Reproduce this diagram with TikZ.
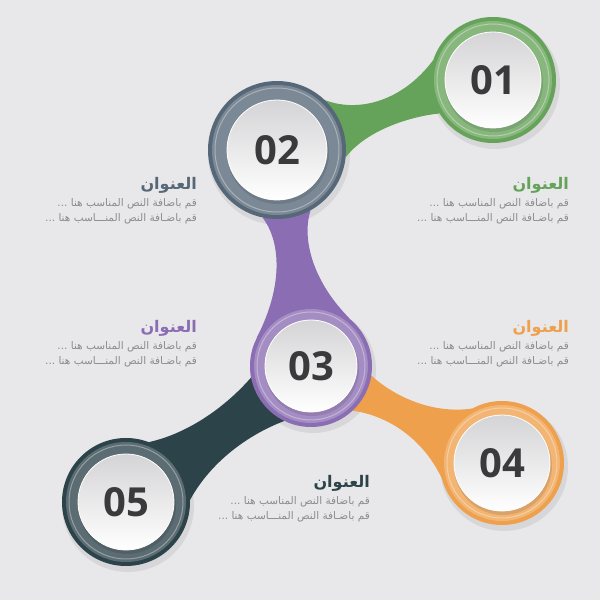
\documentclass[tikz,border=0pt]{standalone}
\usepackage{fontspec}
\usepackage{tikz}
\usetikzlibrary{calc,positioning}
\TeXXeTstate=1
\newfontfamily\arabicfont[Script=Arabic]{DejaVu Sans}
\newfontfamily\numfont{Open Sans}
\definecolor{bgc}{HTML}{E8E8EA}
\definecolor{grn}{HTML}{66A35A}
\definecolor{slt}{HTML}{566777}
\definecolor{prp}{HTML}{8A6DB2}
\definecolor{org}{HTML}{EEA04C}
\definecolor{drk}{HTML}{2C434A}
\definecolor{numc}{HTML}{3A3A3C}
\definecolor{txtc}{HTML}{8C8C8E}
\definecolor{discg}{HTML}{D4D4D6}
\pgfdeclarelayer{back}
\pgfsetlayers{back,main}

% band between two rings: from, to, colour, four border angles, half width
\newcommand\bandlink[8]{%
  \fill[#3] (#1.#4) .. controls ($(#1)!0.4!(#2)!#8!90:(#2)$) and ($(#1)!0.6!(#2)!#8!90:(#2)$) .. (#2.#5)
    -- (#2.#6) .. controls ($(#1)!0.6!(#2)!#8!-90:(#2)$) and ($(#1)!0.4!(#2)!#8!-90:(#2)$) .. (#1.#7) -- cycle;}
% glass ring and white disc on a ring node
\newcommand\discring[4]{%
  \fill[#2!78!white] (#1) circle ({#3-4});
  \draw[white, opacity=.35, line width=1pt] (#1) circle ({#3-7});
  \fill[black, opacity=.10] ($(#1)+(1,-3)$) circle ({#4+1});
  \shade[top color=discg, bottom color=white] (#1) circle (#4);
  \draw[white, line width=.8pt] (#1) circle (#4);}

\tikzset{
  ring/.style={circle, inner sep=0pt, fill=#1},
  num/.style={font=\numfont\bfseries\fontsize{40}{40}\selectfont, text=numc},
  ttl/.style={font=\arabicfont\bfseries\fontsize{16}{18}\selectfont, anchor=base east, inner sep=0pt},
  txt/.style={font=\arabicfont\fontsize{10.5}{15}\selectfont, text=txtc, align=right, inner sep=0pt},
}

\begin{document}
\begin{tikzpicture}[x=1pt,y=1pt]
\begin{pgfonlayer}{back}
  \fill[bgc] (0,0) rectangle (600,600);
\end{pgfonlayer}
\useasboundingbox (0,0) rectangle (600,600);

% rings
\node[ring=grn, minimum size=126pt] (c1) at (493,520) {};
\node[ring=slt, minimum size=138pt] (c2) at (277,450) {};
\node[ring=prp, minimum size=122pt] (c3) at (311,234) {};
\node[ring=org, minimum size=124pt] (c4) at (502,137) {};
\node[ring=drk, minimum size=128pt] (c5) at (126,98) {};

% shadows and bands
\begin{pgfonlayer}{back}
  \foreach \c/\r in {c1/63,c2/69,c3/61,c4/62,c5/64}
    \fill[black, opacity=.07] ($(\c)+(2,-4)$) circle ({\r+2});
  \bandlink{c2}{c1}{grn}{46}{162}{212}{354}{9pt}
  \bandlink{c2}{c3}{prp}{299}{51}{152}{258}{12pt}
  \bandlink{c3}{c4}{org}{351}{119}{194}{313}{11pt}
  \bandlink{c3}{c5}{drk}{244}{2}{69}{191}{18pt}
\end{pgfonlayer}

\discring{c1}{grn}{63}{48}
\discring{c2}{slt}{69}{50}
\discring{c3}{prp}{61}{46}
\discring{c4}{org}{62}{48}
\discring{c5}{drk}{64}{48}

\node[num] (n1) at (c1) {01};
\node[num] (n2) at (c2) {02};
\node[num] (n3) at (c3) {03};
\node[num] (n4) at (c4) {04};
\node[num] (n5) at (c5) {05};

% texts
\node[ttl, text=grn] (t1) at (569,410) {\beginR العنوان\endR};
\node[txt, below=4pt of t1.south east, anchor=north east] (b1) {\beginR قم باضافة النص المناسب هنا ...\endR\\\beginR قم باضـافة النص المنـــاسب هنا ...\endR};
\node[ttl, text=slt] (t2) at (197,410) {\beginR العنوان\endR};
\node[txt, below=4pt of t2.south east, anchor=north east] (b2) {\beginR قم باضافة النص المناسب هنا ...\endR\\\beginR قم باضـافة النص المنـــاسب هنا ...\endR};
\node[ttl, text=prp] (t3) at (197,267) {\beginR العنوان\endR};
\node[txt, below=4pt of t3.south east, anchor=north east] (b3) {\beginR قم باضافة النص المناسب هنا ...\endR\\\beginR قم باضـافة النص المنـــاسب هنا ...\endR};
\node[ttl, text=org] (t4) at (569,267) {\beginR العنوان\endR};
\node[txt, below=4pt of t4.south east, anchor=north east] (b4) {\beginR قم باضافة النص المناسب هنا ...\endR\\\beginR قم باضـافة النص المنـــاسب هنا ...\endR};
\node[ttl, text=drk] (t5) at (370,112) {\beginR العنوان\endR};
\node[txt, below=4pt of t5.south east, anchor=north east] (b5) {\beginR قم باضافة النص المناسب هنا ...\endR\\\beginR قم باضـافة النص المنـــاسب هنا ...\endR};
\end{tikzpicture}
\end{document}
